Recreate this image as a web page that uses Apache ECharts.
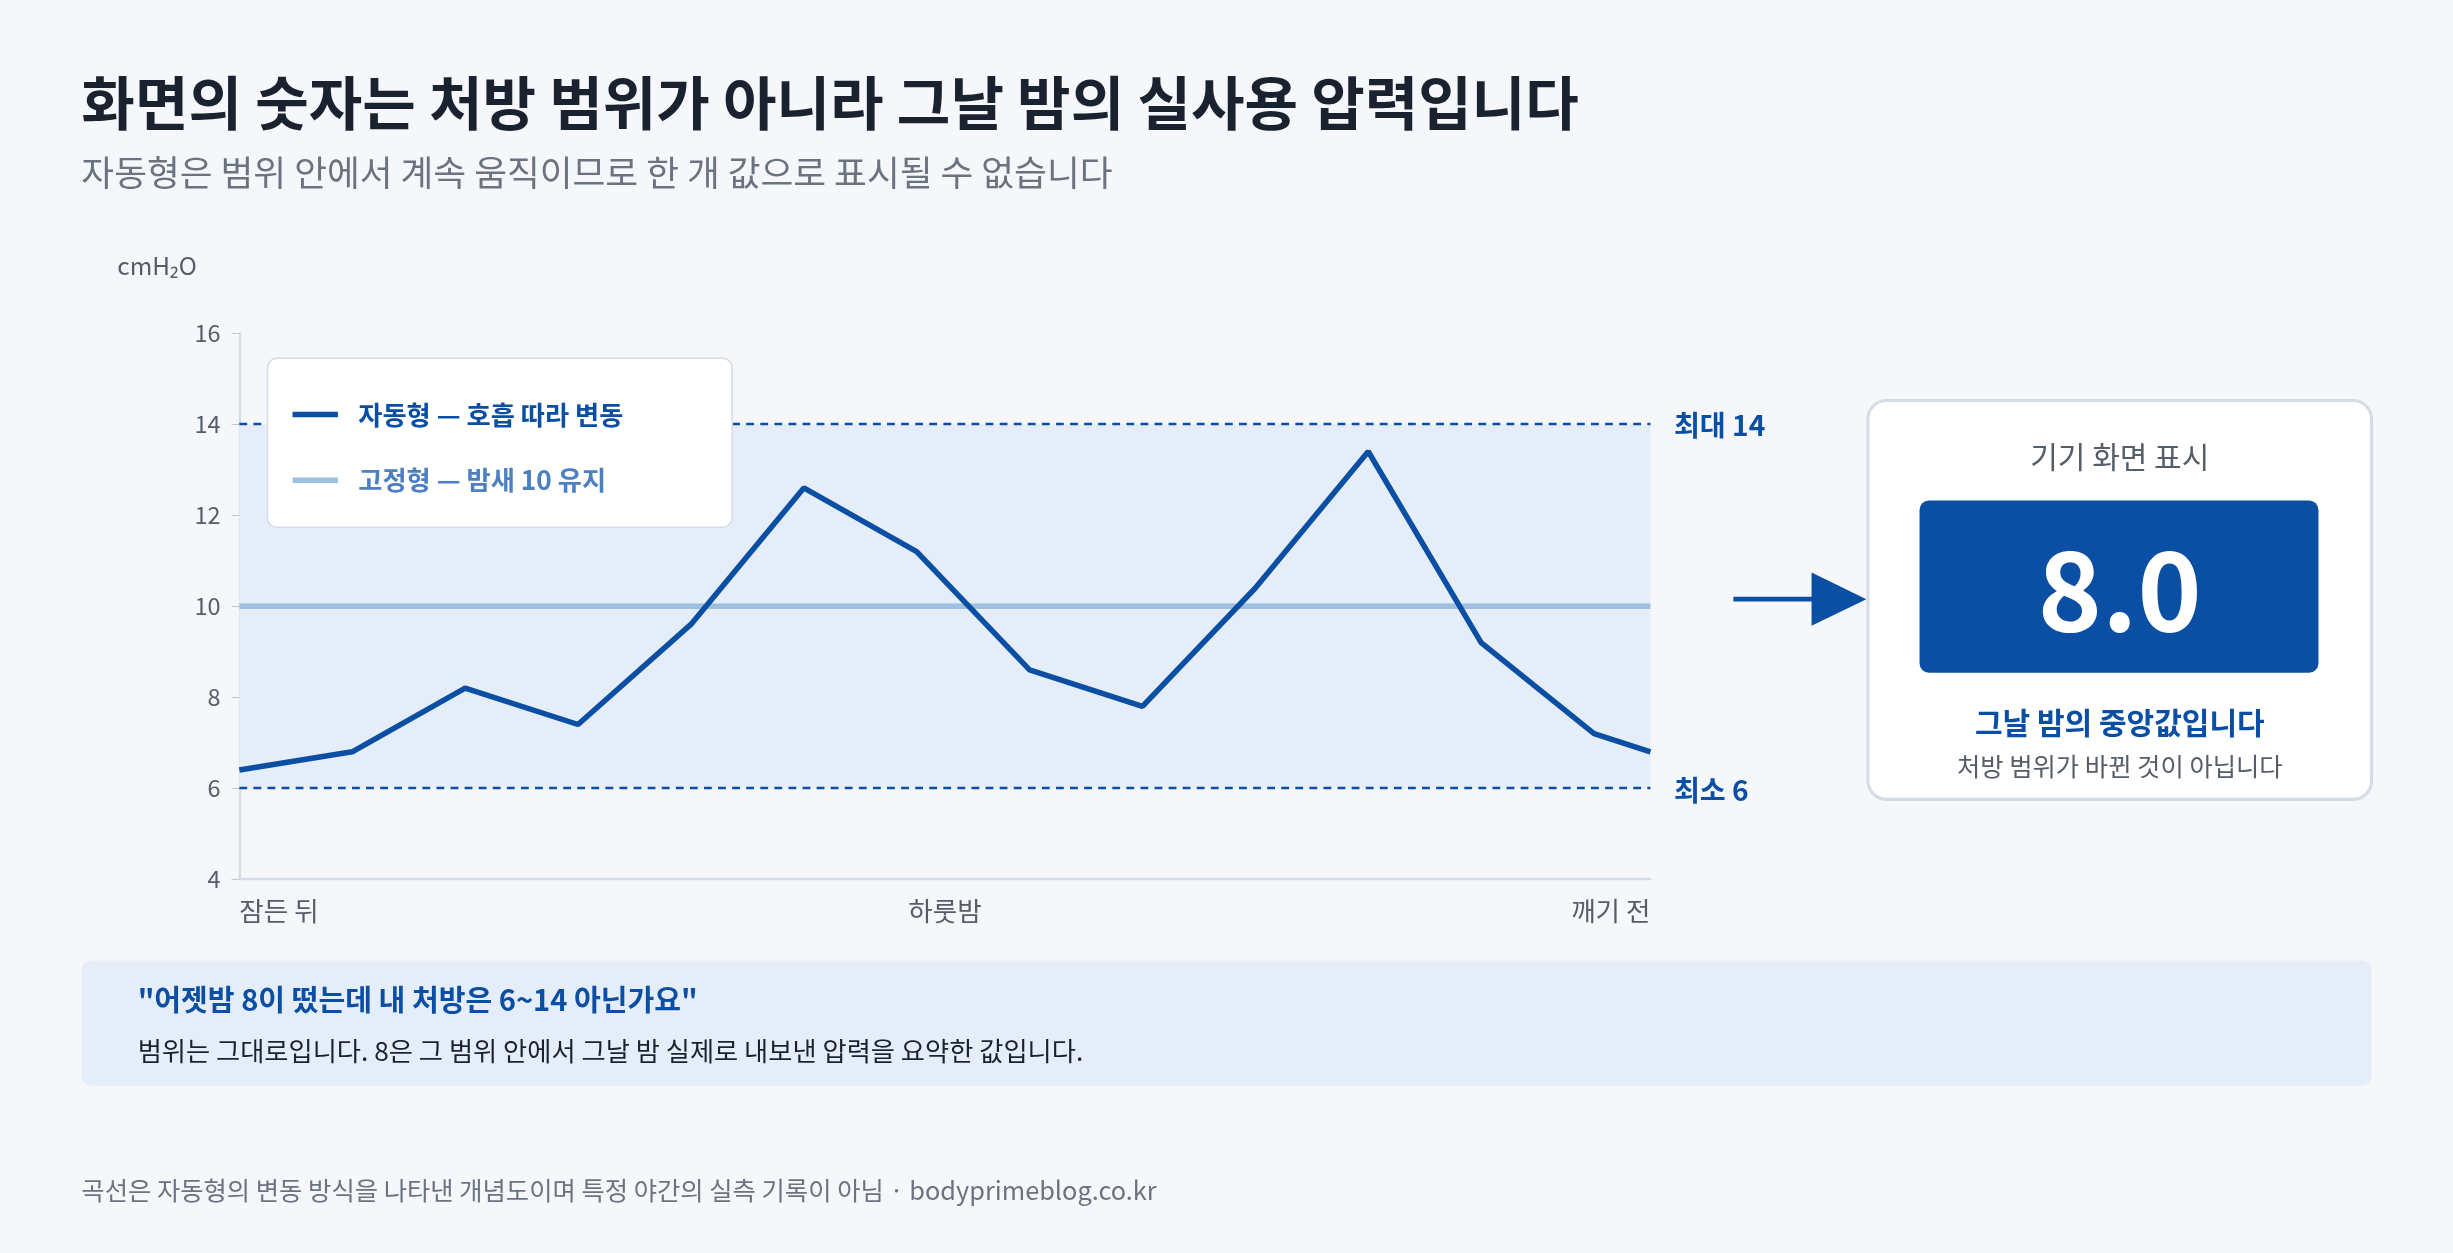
<!DOCTYPE html>
<html><head><meta charset="utf-8">
<script src="https://cdn.jsdelivr.net/npm/echarts@6/dist/echarts.min.js"></script>
<style>html,body{margin:0;padding:0;background:#f5f7fb}#c{width:2453px;height:1253px}</style>
</head><body><div id="c"></div>
<script>
const xPos = [0,2,4,6,8,10,12,14,16,18,20,22,24,25];
const autoVals = [6.4,6.8,8.2,7.4,9.6,12.6,11.2,8.6,7.8,10.4,13.4,9.2,7.2,6.8];
const fixedVal = 10;
const rangeMin = 6, rangeMax = 14;
const xLabels = {0:'잠든 뒤',12.5:'하룻밤',25:'깨기 전'};
const yTicks = [4,6,8,10,12,14,16];

const S = 2453/1568;
const K = 1.2;
const F = "'Noto Sans CJK KR','Noto Sans',sans-serif";
const p = v => v*S;
const chart = echarts.init(document.getElementById('c'));
function txt(x,y,t,size,color,weight,align,va){return {type:'text',z:100,x:p(x),y:p(y),style:{text:t,fontSize:p(size*K),fill:color,fontWeight:weight||'normal',fontFamily:F,align:align||'left',verticalAlign:va||'middle'}};}
const graphic = [
  txt(52,66,'화면의 숫자는 처방 범위가 아니라 그날 밤의 실사용 압력입니다',31,'#1a2230','bold'),
  txt(52,110,'자동형은 범위 안에서 계속 움직이므로 한 개 값으로 표시될 수 없습니다',19,'#6b7380'),
  txt(75,170,'cmH₂O',13,'#555d68'),
  {type:'rect',z:90,shape:{x:p(171),y:p(229),width:p(297),height:p(108),r:p(6)},style:{fill:'#fff',stroke:'#d5dce6',lineWidth:p(1)}},
  {type:'line',z:100,shape:{x1:p(187),y1:p(265),x2:p(216),y2:p(265)},style:{stroke:'#0a4fa3',lineWidth:p(3.5)}},
  txt(229,265,'자동형 — 호흡 따라 변동',14,'#0a4fa3','bold'),
  {type:'line',z:100,shape:{x1:p(187),y1:p(307),x2:p(216),y2:p(307)},style:{stroke:'#9dbfe0',lineWidth:p(3.5)}},
  txt(229,307,'고정형 — 밤새 10 유지',14,'#4c80c0','bold'),
  txt(1070,272,'최대 14',15,'#0a4fa3','bold'),
  txt(1070,505,'최소 6',15,'#0a4fa3','bold'),
  {type:'line',shape:{x1:p(1108),y1:p(383),x2:p(1165),y2:p(383)},style:{stroke:'#0a4fa3',lineWidth:p(3)}},
  {type:'polygon',shape:{points:[[p(1158),p(366)],[p(1193),p(383)],[p(1158),p(400)]]},style:{fill:'#0a4fa3'}},
  {type:'rect',shape:{x:p(1194),y:p(256),width:p(322),height:p(255),r:p(12)},style:{fill:'#fff',stroke:'#d5dce6',lineWidth:p(2)}},
  txt(1355,292,'기기 화면 표시',16,'#555d68','normal','center'),
  {type:'rect',shape:{x:p(1227),y:p(320),width:p(255),height:p(110),r:p(6)},style:{fill:'#0a4fa3'}},
  txt(1355,377,'8.0',58,'#ffffff','bold','center'),
  txt(1355,462,'그날 밤의 중앙값입니다',16,'#0a4fa3','bold','center'),
  txt(1355,490,'처방 범위가 바뀐 것이 아닙니다',13.5,'#555d68','normal','center'),
  {type:'rect',shape:{x:p(52),y:p(614),width:p(1464),height:p(80),r:p(6)},style:{fill:'#e5edf8'}},
  txt(88,639,'"어젯밤 8이 떴는데 내 처방은 6~14 아닌가요"',15.5,'#0a4fa3','bold'),
  txt(88,672,'범위는 그대로입니다. 8은 그 범위 안에서 그날 밤 실제로 내보낸 압력을 요약한 값입니다.',14,'#1a2230'),
  txt(52,761,'곡선은 자동형의 변동 방식을 나타낸 개념도이며 특정 야간의 실측 기록이 아님 · bodyprimeblog.co.kr',13.5,'#6b7380')
];
chart.setOption({
  backgroundColor:'#f5f7fb',
  animation:false,
  grid:{left:p(153),right:2453-p(1055),top:p(213),bottom:1253-p(562)},
  xAxis:{type:'value',min:0,max:25,interval:12.5,
    axisLine:{lineStyle:{color:'#d5dce6',width:p(1.5)}},axisTick:{show:false},splitLine:{show:false},
    axisLabel:{formatter:v=>xLabels[v]||'',fontSize:p(17),color:'#555d68',fontFamily:F,margin:p(12),alignMinLabel:'left',alignMaxLabel:'right'}},
  yAxis:{type:'value',min:4,max:16,interval:2,
    axisLine:{show:true,lineStyle:{color:'#d5dce6',width:p(1.5)}},axisTick:{show:true,length:p(5),lineStyle:{color:'#bfc7d2'}},splitLine:{show:false},
    axisLabel:{fontSize:p(15),color:'#555d68',fontFamily:F,margin:p(12)}},
  series:[
    {type:'line',data:xPos.map((x,i)=>[x,autoVals[i]]),symbol:'none',lineStyle:{color:'#0a4fa3',width:p(3.5)},z:5,
     markArea:{silent:true,itemStyle:{color:'#e5edf8'},data:[[{yAxis:rangeMin},{yAxis:rangeMax}]]},
     markLine:{silent:true,symbol:'none',label:{show:false},lineStyle:{color:'#0a4fa3',type:[p(5),p(4)],width:p(1.5)},data:[{yAxis:rangeMin},{yAxis:rangeMax}]}},
    {type:'line',data:[[0,fixedVal],[25,fixedVal]],symbol:'none',lineStyle:{color:'#9dbfe0',width:p(3.5)},z:4}
  ],
  graphic:graphic
});
</script></body></html>
